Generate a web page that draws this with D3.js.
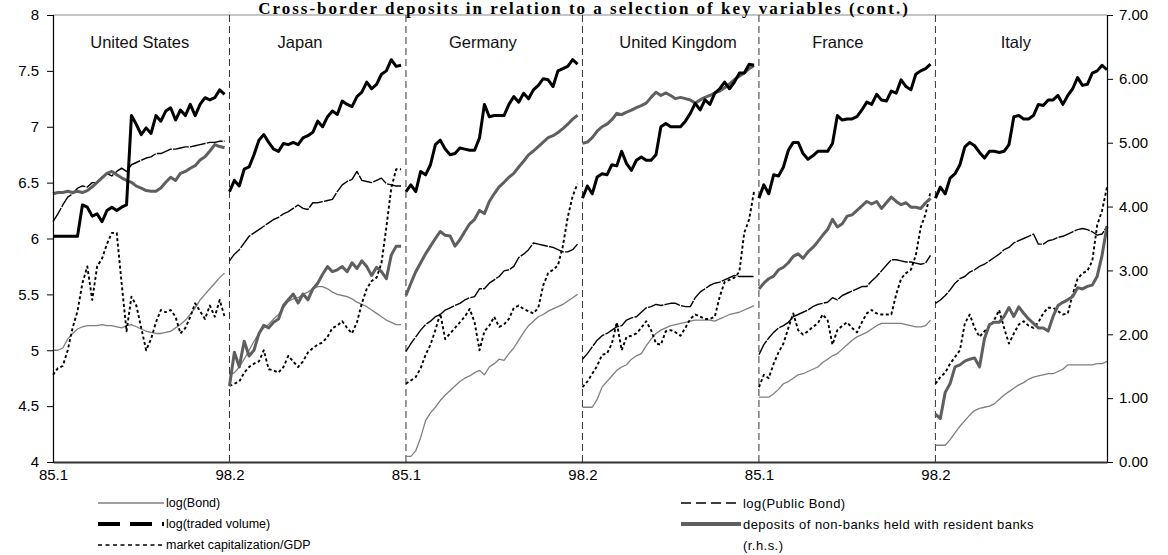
<!DOCTYPE html>
<html>
<head>
<meta charset="utf-8">
<script src="https://cdn.jsdelivr.net/npm/d3@7"></script>
<style>
  body { margin: 0; background: #fff; }
  svg { display: block; }
</style>
</head>
<body>
<svg id="chart" width="1168" height="555"></svg>
<script>
// ---- data ---------------------------------------------------------------
const countries = ["United States", "Japan", "Germany", "United Kingdom", "France", "Italy"];
const periodLabels = ["85.1", "98.2", "85.1", "98.2", "85.1", "98.2"];
const leftTicks = [4, 4.5, 5, 5.5, 6, 6.5, 7, 7.5, 8];
const rightTicks = [0, 1, 2, 3, 4, 5, 6, 7];
const samplesPerCountry = 36;
// sample index (within each country block) where the country name sits
const nameSlot = [17.7, 14.4, 15.7, 19.5, 16.1, 16.4];

// log(Bond), one list per country
const logBond = [
  [5.0,5.0,5.02,5.1,5.15,5.19,5.21,5.22,5.22,5.22,5.23,5.22,5.22,5.21,5.2,5.22,5.23,5.21,5.19,5.17,5.16,5.15,5.15,5.16,5.17,5.2,5.23,5.27,5.32,5.38,5.45,5.5,5.55,5.6,5.65,5.69],
  [4.78,4.8,4.85,4.92,5.0,5.08,5.15,5.2,5.23,5.28,5.32,5.38,5.44,5.46,5.47,5.5,5.52,5.55,5.57,5.57,5.55,5.52,5.5,5.49,5.48,5.46,5.43,5.41,5.39,5.36,5.33,5.3,5.27,5.25,5.23,5.23],
  [4.05,4.05,4.1,4.22,4.37,4.44,4.49,4.55,4.6,4.64,4.68,4.72,4.75,4.77,4.8,4.82,4.78,4.85,4.88,4.92,4.91,4.97,5.02,5.09,5.16,5.22,5.26,5.3,5.32,5.35,5.37,5.39,5.41,5.44,5.47,5.5],
  [4.49,4.49,4.49,4.56,4.67,4.72,4.77,4.82,4.85,4.87,4.92,4.95,4.97,5.04,5.1,5.15,5.18,5.2,5.22,5.23,5.24,5.25,5.26,5.27,5.27,5.27,5.27,5.26,5.28,5.3,5.32,5.33,5.34,5.36,5.38,5.4],
  [4.58,4.58,4.58,4.61,4.65,4.7,4.72,4.75,4.78,4.79,4.81,4.83,4.85,4.89,4.92,4.95,4.97,5.01,5.05,5.09,5.12,5.14,5.16,5.19,5.22,5.24,5.24,5.24,5.24,5.24,5.23,5.22,5.21,5.21,5.22,5.27],
  [4.15,4.15,4.15,4.2,4.26,4.32,4.37,4.42,4.46,4.48,4.49,4.5,4.52,4.56,4.6,4.63,4.66,4.69,4.71,4.74,4.76,4.77,4.78,4.79,4.79,4.81,4.83,4.87,4.87,4.87,4.87,4.87,4.87,4.88,4.88,4.9]
];

// log(traded volume)
const logTradedVolume = [
  [6.02,6.02,6.02,6.02,6.02,6.02,6.3,6.28,6.2,6.22,6.15,6.25,6.28,6.25,6.28,6.3,7.1,7.02,6.93,6.99,6.94,7.1,7.05,7.14,7.17,7.06,7.15,7.1,7.2,7.1,7.2,7.26,7.24,7.26,7.33,7.29],
  [6.42,6.52,6.47,6.62,6.64,6.75,6.88,6.93,6.86,6.8,6.78,6.85,6.84,6.86,6.84,6.9,6.92,6.95,7.05,7.0,7.09,7.14,7.11,7.23,7.2,7.18,7.27,7.31,7.4,7.34,7.38,7.47,7.5,7.6,7.54,7.55],
  [6.42,6.48,6.42,6.6,6.57,6.66,6.84,6.88,6.8,6.75,6.76,6.81,6.8,6.79,6.79,6.9,7.2,7.09,7.1,7.1,7.1,7.2,7.27,7.22,7.3,7.25,7.33,7.37,7.43,7.42,7.36,7.5,7.52,7.54,7.6,7.56],
  [6.36,6.47,6.4,6.55,6.58,6.57,6.66,6.65,6.78,6.67,6.61,6.7,6.73,6.7,6.7,6.75,7.0,7.03,7.0,7.0,7.0,7.05,7.12,7.21,7.15,7.24,7.2,7.3,7.34,7.4,7.34,7.4,7.48,7.48,7.56,7.55],
  [6.36,6.48,6.4,6.57,6.56,6.64,6.79,6.86,6.86,6.76,6.71,6.74,6.78,6.78,6.78,6.85,7.1,7.06,7.07,7.07,7.09,7.15,7.22,7.2,7.29,7.24,7.23,7.32,7.3,7.42,7.36,7.33,7.47,7.5,7.52,7.56],
  [6.36,6.46,6.4,6.54,6.58,6.66,6.82,6.86,6.83,6.77,6.72,6.78,6.78,6.77,6.78,6.84,7.09,7.1,7.07,7.07,7.1,7.2,7.19,7.24,7.24,7.28,7.2,7.28,7.34,7.44,7.37,7.38,7.48,7.5,7.55,7.51]
];

// market capitalization / GDP
const marketCapGdp = [
  [4.78,4.84,4.86,5.0,5.2,5.35,5.6,5.75,5.45,5.75,5.82,5.95,6.05,6.05,5.6,5.17,5.48,5.4,5.2,5.0,5.1,5.25,5.36,5.34,5.36,5.3,5.15,5.2,5.3,5.42,5.35,5.28,5.4,5.3,5.45,5.3],
  [4.68,4.7,4.72,4.8,4.85,4.88,4.9,5.0,4.83,4.82,4.8,4.85,4.95,4.9,4.85,4.9,4.98,5.02,5.05,5.07,5.12,5.2,5.22,5.26,5.2,5.15,5.25,5.42,5.55,5.62,5.65,5.78,6.1,6.45,6.62,6.62],
  [4.7,4.73,4.76,4.84,4.96,5.05,5.18,5.33,5.1,5.15,5.2,5.25,5.3,5.37,5.25,5.0,5.17,5.22,5.3,5.21,5.23,5.28,5.38,5.4,5.37,5.35,5.33,5.38,5.58,5.69,5.72,5.76,5.93,6.19,6.38,6.49],
  [4.67,4.72,4.79,4.86,4.96,4.97,5.06,5.25,5.0,5.12,5.13,5.15,5.2,5.26,5.18,5.06,5.05,5.17,5.18,5.16,5.13,5.2,5.28,5.32,5.3,5.28,5.28,5.3,5.48,5.61,5.63,5.65,5.7,6.05,6.17,6.42],
  [4.67,4.78,4.75,4.88,4.98,5.06,5.2,5.33,5.18,5.14,5.17,5.21,5.24,5.32,5.27,5.05,5.18,5.22,5.25,5.2,5.16,5.25,5.33,5.36,5.33,5.32,5.32,5.32,5.5,5.64,5.69,5.72,5.85,6.1,6.22,6.42],
  [4.7,4.76,4.8,4.88,4.94,5.0,5.24,5.32,5.2,5.12,5.17,5.21,5.27,5.36,5.2,5.06,5.15,5.23,5.26,5.22,5.2,5.25,5.33,5.38,5.38,5.35,5.32,5.33,5.5,5.64,5.69,5.71,5.8,6.12,6.25,6.46]
];

// log(Public Bond)
const logPublicBond = [
  [6.15,6.22,6.3,6.37,6.4,6.45,6.47,6.46,6.5,6.5,6.55,6.58,6.56,6.6,6.63,6.6,6.66,6.68,6.7,6.72,6.73,6.76,6.76,6.78,6.8,6.8,6.81,6.82,6.82,6.83,6.84,6.85,6.86,6.86,6.87,6.87],
  [5.8,5.86,5.9,5.96,6.02,6.05,6.08,6.11,6.14,6.17,6.19,6.22,6.24,6.27,6.3,6.27,6.26,6.32,6.32,6.33,6.34,6.35,6.42,6.48,6.51,6.53,6.6,6.52,6.51,6.5,6.52,6.54,6.49,6.48,6.47,6.47],
  [4.99,5.06,5.12,5.18,5.23,5.26,5.3,5.32,5.36,5.38,5.4,5.42,5.45,5.47,5.48,5.55,5.55,5.6,5.63,5.66,5.71,5.72,5.75,5.83,5.86,5.9,5.96,5.95,5.94,5.93,5.92,5.9,5.88,5.88,5.9,5.95],
  [4.92,4.97,5.03,5.09,5.13,5.15,5.18,5.21,5.22,5.27,5.29,5.3,5.34,5.38,5.39,5.41,5.4,5.41,5.42,5.42,5.4,5.39,5.39,5.47,5.52,5.55,5.58,5.6,5.61,5.63,5.65,5.67,5.66,5.66,5.66,5.66],
  [4.96,5.05,5.11,5.16,5.2,5.22,5.25,5.3,5.32,5.34,5.36,5.39,5.41,5.42,5.43,5.47,5.45,5.49,5.51,5.53,5.55,5.57,5.57,5.62,5.66,5.71,5.76,5.81,5.81,5.8,5.79,5.79,5.78,5.77,5.78,5.85],
  [5.42,5.45,5.49,5.54,5.6,5.64,5.66,5.7,5.72,5.75,5.77,5.8,5.83,5.86,5.9,5.92,5.96,5.98,6.0,6.02,6.04,5.95,5.95,5.98,5.99,6.01,6.02,6.04,6.06,6.08,6.09,6.08,6.06,6.03,6.04,6.11]
];

// deposits of non-banks held with resident banks (right-hand scale)
const residentDeposits = [
  [4.20,4.22,4.22,4.24,4.22,4.24,4.22,4.25,4.31,4.38,4.45,4.52,4.55,4.50,4.45,4.41,4.38,4.32,4.29,4.25,4.24,4.24,4.29,4.38,4.46,4.41,4.52,4.55,4.60,4.64,4.73,4.78,4.87,4.97,4.94,4.92],
  [1.19,1.72,1.49,1.89,1.66,1.75,2.01,2.14,2.10,2.19,2.24,2.45,2.54,2.63,2.49,2.63,2.54,2.71,2.80,2.94,3.06,2.98,3.01,3.06,2.98,3.12,3.03,3.15,3.06,2.92,3.05,2.98,2.87,3.24,3.38,3.38],
  [2.61,2.80,2.98,3.12,3.26,3.38,3.50,3.61,3.55,3.54,3.38,3.48,3.61,3.73,3.80,3.94,3.89,4.08,4.20,4.31,4.38,4.46,4.52,4.62,4.71,4.81,4.87,4.94,5.01,5.08,5.11,5.16,5.22,5.29,5.37,5.43],
  [4.99,5.01,5.08,5.18,5.25,5.29,5.36,5.46,5.44,5.48,5.51,5.55,5.58,5.62,5.71,5.79,5.74,5.78,5.74,5.69,5.71,5.69,5.67,5.62,5.67,5.71,5.74,5.78,5.81,5.86,5.92,5.99,6.04,6.09,6.16,6.21],
  [2.71,2.80,2.87,2.91,3.01,3.05,3.12,3.22,3.26,3.19,3.29,3.36,3.45,3.55,3.64,3.80,3.68,3.73,3.85,3.87,3.94,4.01,4.08,4.04,4.08,3.97,4.06,4.15,4.08,4.03,4.06,3.99,3.99,3.97,4.06,4.13],
  [0.75,0.68,1.09,1.23,1.49,1.52,1.58,1.61,1.63,1.49,1.93,2.15,2.19,2.19,2.28,2.42,2.28,2.43,2.33,2.24,2.17,2.10,2.10,2.05,2.28,2.45,2.50,2.54,2.59,2.73,2.71,2.75,2.77,2.91,3.24,3.69]
];

// ---- layout -------------------------------------------------------------
const plot = { left: 53, right: 1107, top: 15, bottom: 462 };
const font = "'Liberation Sans', Arial, sans-serif";

const svg = d3.select("#chart");

const x = d3.scaleLinear()
  .domain([0, countries.length * samplesPerCountry - 1])
  .range([plot.left, plot.right]);
const yL = d3.scaleLinear().domain([4, 8]).range([plot.bottom, plot.top]);
const yR = d3.scaleLinear().domain([0, 7]).range([plot.bottom, plot.top]);

// plot frame top
svg.append("line")
  .attr("x1", plot.left).attr("x2", plot.right)
  .attr("y1", plot.top).attr("y2", plot.top)
  .attr("stroke", "#8c8c8c").attr("stroke-width", 1.2);

// title, sitting right on the top edge of the frame
svg.append("text")
  .attr("x", 584).attr("y", 14)
  .attr("text-anchor", "middle")
  .style("font-family", "'Liberation Serif', 'Times New Roman', serif")
  .style("font-weight", "bold")
  .style("font-size", "17px")
  .style("letter-spacing", "2px")
  .text("Cross-border deposits in relation to a selection of key variables (cont.)");

// country separators
const blockStarts = countries.map((c, i) => i * samplesPerCountry);
svg.append("g").selectAll("line")
  .data(blockStarts.slice(1))
  .join("line")
  .attr("x1", d => x(d)).attr("x2", d => x(d))
  .attr("y1", plot.top).attr("y2", plot.bottom)
  .attr("stroke", "#333").attr("stroke-width", 1)
  .attr("stroke-dasharray", "7,4");

// country names
svg.append("g").selectAll("text")
  .data(countries)
  .join("text")
  .attr("x", (d, i) => x(i * samplesPerCountry + nameSlot[i]))
  .attr("y", 48)
  .attr("text-anchor", "middle")
  .style("font-family", font)
  .style("font-size", "16.5px")
  .attr("fill", "#111")
  .text(d => d);

// series
const seriesStyles = [
  { data: logBond,          axis: yL, stroke: "#7f7f7f", width: 1.3, dash: null },
  { data: marketCapGdp,     axis: yL, stroke: "#000",    width: 1.9, dash: "3,2.5" },
  { data: logPublicBond,    axis: yL, stroke: "#000",    width: 1.4, dash: "16,1.2" },
  { data: residentDeposits, axis: yR, stroke: "#5f5f5f", width: 3,   dash: null },
  { data: logTradedVolume,  axis: yL, stroke: "#000",    width: 3,   dash: null }
];

const gLines = svg.append("g").attr("fill", "none").attr("stroke-linejoin", "round");
seriesStyles.forEach(s => {
  s.data.forEach((vals, ci) => {
    const line = d3.line()
      .x((d, j) => x(ci * samplesPerCountry + j))
      .y(d => s.axis(d));
    gLines.append("path")
      .datum(vals)
      .attr("d", line)
      .attr("stroke", s.stroke)
      .attr("stroke-width", s.width)
      .attr("stroke-dasharray", s.dash);
  });
});

// left axis
const axL = svg.append("g")
  .attr("transform", `translate(${plot.left},0)`)
  .call(d3.axisLeft(yL).tickValues(leftTicks).tickSize(6).tickPadding(8).tickFormat(d => d));
axL.select(".domain").attr("stroke", "#000").attr("stroke-width", 1.2);
axL.selectAll(".tick line").attr("stroke", "#000");
axL.selectAll("text").style("font-family", font).style("font-size", "15px").attr("fill", "#000");

// right axis
const axR = svg.append("g")
  .attr("transform", `translate(${plot.right},0)`)
  .call(d3.axisRight(yR).tickValues(rightTicks).tickSize(6).tickPadding(6).tickFormat(d3.format(".2f")));
axR.select(".domain").attr("stroke", "#000").attr("stroke-width", 1.2);
axR.selectAll(".tick line").attr("stroke", "#000");
axR.selectAll("text").style("font-family", font).style("font-size", "15px").attr("fill", "#000");

// bottom axis with period labels at each block start
const axB = svg.append("g")
  .attr("transform", `translate(0,${plot.bottom})`)
  .call(d3.axisBottom(x).tickValues(blockStarts).tickSize(0).tickPadding(7)
    .tickFormat((d, i) => periodLabels[i]));
axB.select(".domain").attr("stroke", "#333").attr("stroke-width", 2);
axB.selectAll("text").style("font-family", font).style("font-size", "15px").attr("fill", "#000");

// legend
const legendItems = [
  { label: ["log(Bond)"], col: 0, row: 0, stroke: "#7f7f7f", width: 1.3, dash: null },
  { label: ["log(traded volume)"], col: 0, row: 1, stroke: "#000", width: 4, dash: "22,10" },
  { label: ["market capitalization/GDP"], col: 0, row: 2, stroke: "#000", width: 1.3, dash: "4,3.5" },
  { label: ["log(Public Bond)"], col: 1, row: 0, stroke: "#000", width: 1.5, dash: "10,5" },
  { label: ["deposits of non-banks held with resident banks", "(r.h.s.)"], col: 1, row: 1, stroke: "#5f5f5f", width: 4, dash: null }
];
const legCols = [
  { x0: 98, x1: 164, size: "12.5px", spacing: "0px" },
  { x0: 681, x1: 741, size: "13px", spacing: "0.45px" }
];
const legRowY = r => 503 + r * 21;

const gLeg = svg.append("g");
legendItems.forEach(it => {
  const c = legCols[it.col];
  const yy = legRowY(it.row);
  gLeg.append("line")
    .attr("x1", c.x0).attr("x2", c.x1)
    .attr("y1", yy).attr("y2", yy)
    .attr("stroke", it.stroke).attr("stroke-width", it.width)
    .attr("stroke-dasharray", it.dash);
  it.label.forEach((t, k) => {
    gLeg.append("text")
      .attr("x", c.x1 + 2).attr("y", yy + k * 21)
      .attr("dy", "0.35em")
      .style("font-family", font)
      .style("font-size", c.size)
      .style("letter-spacing", c.spacing)
      .attr("fill", "#000")
      .text(t);
  });
});
</script>
</body>
</html>
